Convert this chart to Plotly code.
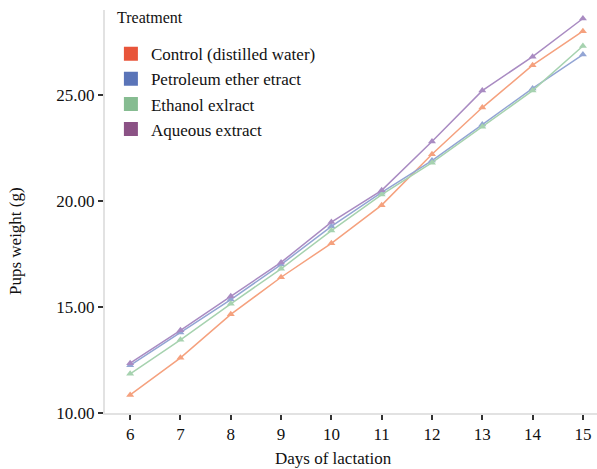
import plotly.graph_objects as go

days = [6, 7, 8, 9, 10, 11, 12, 13, 14, 15]
series_names = ["Control (distilled water)", "Petroleum ether etract", "Ethanol exlract", "Aqueous extract"]
control = [10.85, 12.6, 14.65, 16.4, 18.0, 19.8, 22.2, 24.4, 26.4, 28.0]
petroleum = [12.25, 13.8, 15.35, 17.0, 18.8, 20.4, 21.9, 23.6, 25.3, 26.9]
ethanol = [11.85, 13.45, 15.15, 16.8, 18.6, 20.3, 21.8, 23.5, 25.2, 27.3]
aqueous = [12.35, 13.9, 15.5, 17.1, 19.0, 20.5, 22.8, 25.2, 26.8, 28.6]
y_ticks = [10, 15, 20, 25]

line_colors = ["#F5A17E", "#93A5D4", "#A6D2AF", "#A98BC2"]
legend_colors = ["#E8553A", "#5A74B8", "#86BC91", "#8B5285"]
values = [control, petroleum, ethanol, aqueous]

font_family = "Liberation Serif"
fig = go.Figure()
for name, vals, lc in zip(series_names, values, line_colors):
    fig.add_trace(go.Scatter(
        x=days, y=vals, mode="lines+markers", name=name, showlegend=False,
        line=dict(color=lc, width=1.5),
        marker=dict(symbol="triangle-up", size=7, color=lc),
    ))
for name, c in zip(series_names, legend_colors):
    fig.add_trace(go.Scatter(
        x=[None], y=[None], mode="markers", name=name, showlegend=True,
        marker=dict(symbol="square", size=14, color=c),
    ))

fig.update_layout(
    width=597, height=469,
    margin=dict(l=105, r=0, t=10, b=56),
    paper_bgcolor="white", plot_bgcolor="white",
    font=dict(family=font_family, size=17, color="#111"),
    legend=dict(
        x=0.012, y=0.935, xanchor="left", yanchor="top",
        bgcolor="rgba(0,0,0,0)", font=dict(size=17, family=font_family),
        itemsizing="trace", tracegroupgap=0,
    ),
    xaxis=dict(
        range=[5.5, 15.28], tickvals=days, ticktext=[str(d) for d in days],
        showgrid=False, zeroline=False, showline=True, linecolor="#e2e2e2", linewidth=2,
        ticks="outside", ticklen=5, tickwidth=2, tickcolor="#333",
        tickfont=dict(size=17, family=font_family),
    ),
    yaxis=dict(
        range=[10, 29.0], tickvals=y_ticks, ticktext=[f"{v:.2f}" for v in y_ticks],
        showgrid=False, zeroline=False, showline=True, linecolor="#e2e2e2", linewidth=2,
        ticks="outside", ticklen=5, tickwidth=2, tickcolor="#333",
        tickfont=dict(size=17, family=font_family),
    ),
    annotations=[
        dict(text="Treatment", xref="paper", yref="paper", x=0.02, y=1 - 8 / 403,
             xanchor="left", yanchor="middle", showarrow=False,
             font=dict(size=16, family=font_family, color="#111")),
        dict(text="Days of lactation", xref="paper", yref="paper",
             x=(333 - 105) / 492, y=-(458 - 413) / 403,
             xanchor="center", yanchor="middle", showarrow=False,
             font=dict(size=17, family=font_family, color="#111")),
        dict(text="Pups weight (g)", xref="paper", yref="paper", textangle=-90,
             x=(15 - 105) / 492, y=(413 - 241) / 403,
             xanchor="center", yanchor="middle", showarrow=False,
             font=dict(size=17, family=font_family, color="#111")),
    ],
)
fig.write_html("out.html", post_script="document.body.style.margin='0';",
               config={"displayModeBar": False})
